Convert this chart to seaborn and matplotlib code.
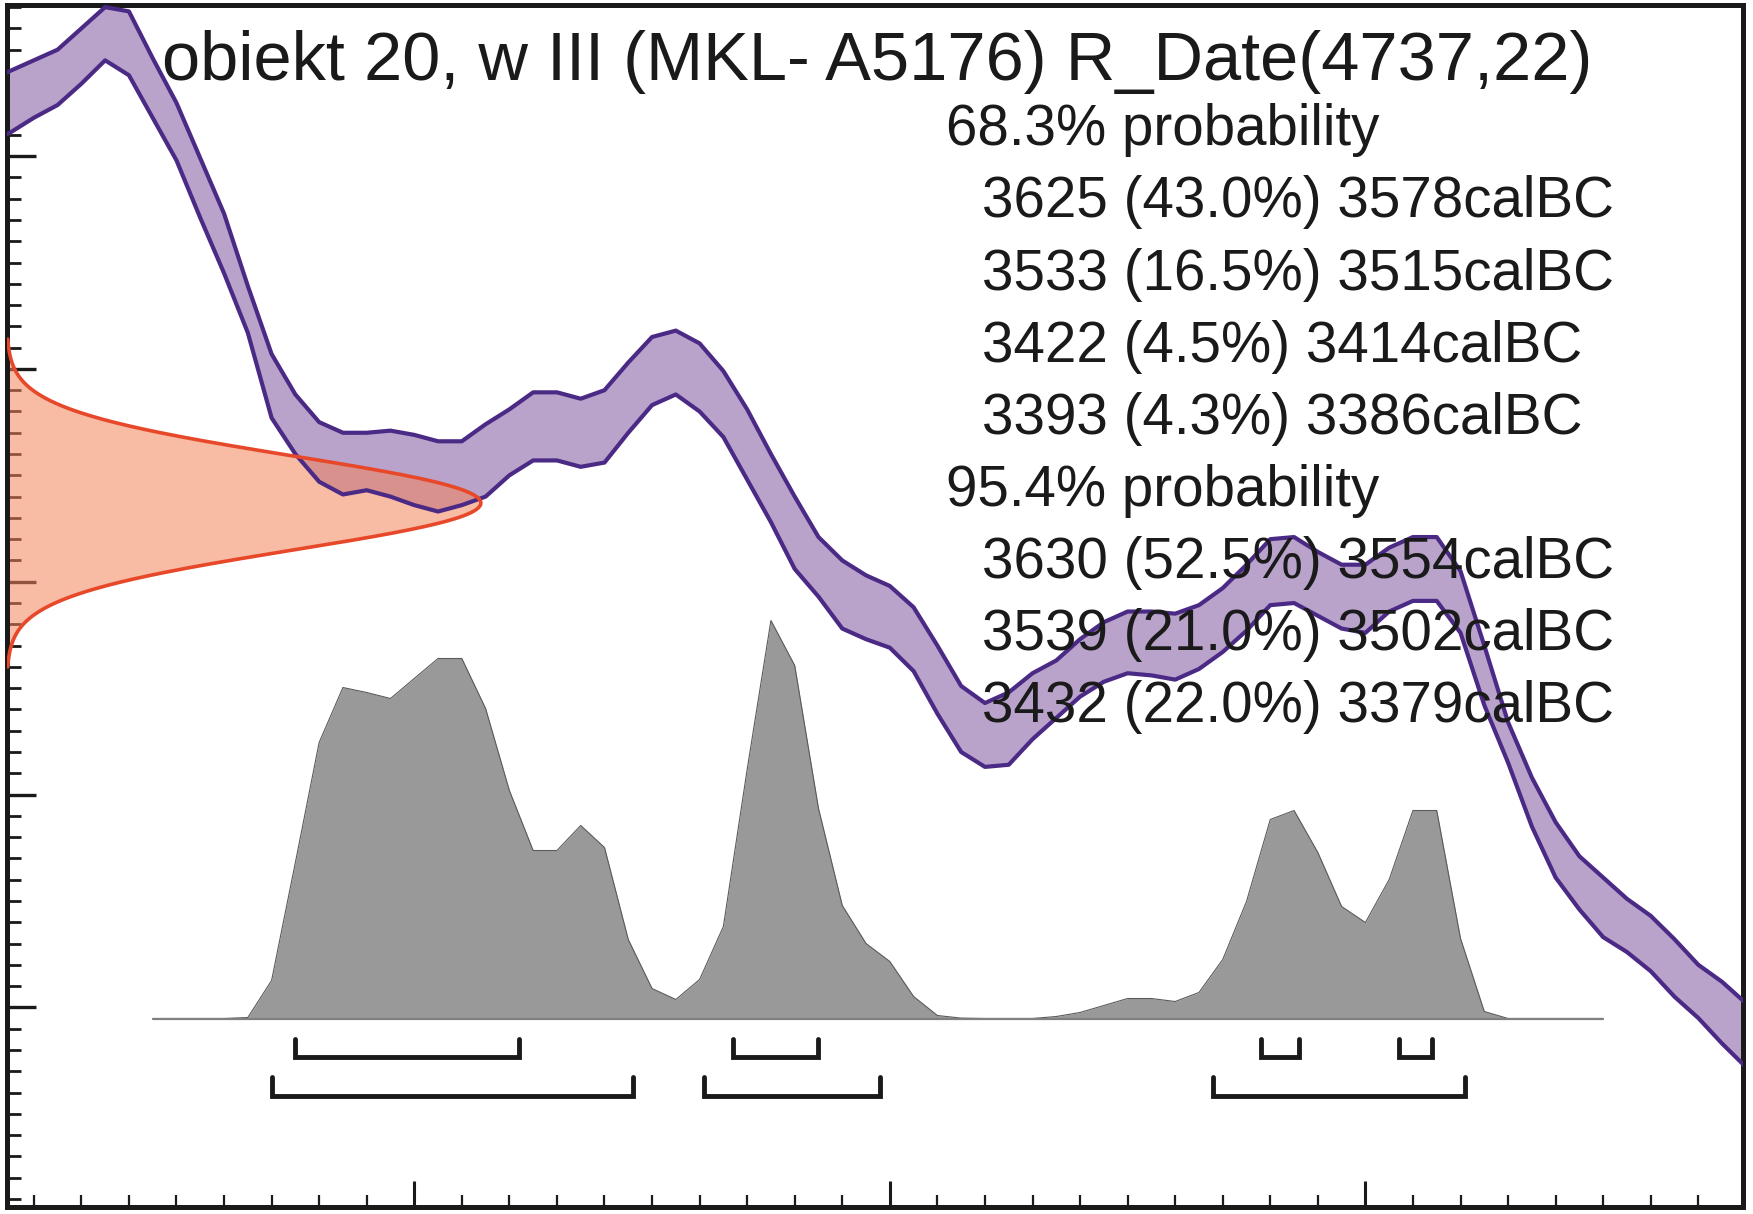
import numpy as np
import matplotlib
matplotlib.use('Agg')
import matplotlib.pyplot as plt
from matplotlib.ticker import MultipleLocator
import seaborn as sns

# radiocarbon measurement
title = 'obiekt 20, w III (MKL- A5176) R_Date(4737,22)'
r_mean = 4737
r_sd = 22

# calibration curve band (BP), 5-year steps, calBC
cal_years = [3690, 3685, 3680, 3675, 3670, 3665, 3660, 3655, 3650, 3645, 3640, 3635, 3630,
             3625, 3620, 3615, 3610, 3605, 3600, 3595, 3590, 3585, 3580, 3575, 3570, 3565,
             3560, 3555, 3550, 3545, 3540, 3535, 3530, 3525, 3520, 3515, 3510, 3505, 3500,
             3495, 3490, 3485, 3480, 3475, 3470, 3465, 3460, 3455, 3450, 3445, 3440, 3435,
             3430, 3425, 3420, 3415, 3410, 3405, 3400, 3395, 3390, 3385, 3380, 3375, 3370,
             3365, 3360, 3355, 3350, 3345, 3340, 3335, 3330, 3325, 3320, 3315]
cal_upper = [4935, 4940, 4945, 4950, 4960, 4970, 4968, 4946, 4925, 4899, 4873, 4839, 4807,
             4788, 4775, 4770, 4770, 4771, 4769, 4766, 4766, 4774, 4781, 4789, 4789, 4786,
             4790, 4803, 4815, 4818, 4812, 4799, 4781, 4760, 4740, 4721, 4710, 4703, 4698,
             4688, 4670, 4651, 4643, 4648, 4657, 4663, 4673, 4681, 4686, 4686, 4685, 4689,
             4697, 4708, 4720, 4721, 4714, 4708, 4708, 4716, 4721, 4721, 4705, 4670, 4634,
             4608, 4587, 4571, 4561, 4551, 4543, 4532, 4520, 4512, 4502, 4492]
cal_lower = [4906, 4911, 4918, 4924, 4934, 4945, 4938, 4918, 4898, 4871, 4845, 4817, 4777,
             4760, 4747, 4741, 4743, 4740, 4736, 4733, 4736, 4740, 4750, 4757, 4757, 4754,
             4756, 4770, 4783, 4788, 4780, 4768, 4748, 4728, 4706, 4693, 4678, 4673, 4669,
             4658, 4638, 4620, 4613, 4614, 4626, 4636, 4646, 4653, 4657, 4656, 4654, 4659,
             4667, 4677, 4689, 4690, 4684, 4678, 4676, 4686, 4691, 4691, 4676, 4642, 4615,
             4585, 4561, 4546, 4533, 4526, 4517, 4505, 4495, 4483, 4472, 4461]

# calibrated probability (relative heights), calBC
post_years = [3655, 3650, 3645, 3640, 3635, 3630, 3625, 3620, 3615, 3610, 3605, 3600, 3595,
              3590, 3585, 3580, 3575, 3570, 3565, 3560, 3555, 3550, 3545, 3540, 3535, 3530,
              3525, 3520, 3515, 3510, 3505, 3500, 3495, 3490, 3485, 3480, 3475, 3470, 3465,
              3460, 3455, 3450, 3445, 3440, 3435, 3430, 3425, 3420, 3415, 3410, 3405, 3400,
              3395, 3390, 3385, 3380, 3375, 3370, 3365, 3360, 3355, 3350]
post_prob = [0, 0, 0, 0, 1, 38, 156, 276, 331, 326, 320, 340, 360,
             360, 310, 228, 168, 168, 193, 171, 79, 30, 19, 39, 92, 249,
             398, 353, 210, 113, 75, 57, 22, 3, 0.4, 0, 0, 0, 2,
             6, 13, 20, 20, 17, 26, 59, 117, 199, 208, 166, 112, 96,
             139, 208, 208, 80, 7, 0, 0, 0, 0, 0]

# probability ranges
range68 = [(3625, 3578), (3533, 3515), (3422, 3414), (3393, 3386)]
pct68 = [43.0, 16.5, 4.5, 4.3]
range95 = [(3630, 3554), (3539, 3502), (3432, 3379)]
pct95 = [52.5, 21.0, 22.0]

W, H = 1753, 1214
sns.set_theme(style='white')
plt.rcParams['font.family'] = ['Liberation Sans', 'DejaVu Sans']

fig = plt.figure(figsize=(W / 100, H / 100), dpi=100)
ax = fig.add_axes([6.7 / W, 7 / H, 1736.3 / W, 1202 / H])
x_left, x_right = 3685.7, 3320.6
y_bot, y_top = 4406.2, 4971.0

band_fill = '#b9a3cb'
band_line = '#4b2a86'
red_fill = '#f4835a'
red_line = '#e8482a'

# calibration band
ax.fill_between(cal_years, cal_lower, cal_upper, color=band_fill, lw=0, zorder=1)

# measurement as normal curve on the y axis
bp = np.linspace(r_mean - 3.5 * r_sd, r_mean + 3.5 * r_sd, 400)
dens = np.exp(-0.5 * ((bp - r_mean) / r_sd) ** 2)
red_x = x_left - 99.7 * dens
ax.fill_betweenx(bp, x_left, red_x, color=red_fill, alpha=0.55, lw=0, zorder=2)

sns.lineplot(x=cal_years, y=cal_upper, ax=ax, color=band_line, lw=3.0, zorder=3)
sns.lineplot(x=cal_years, y=cal_lower, ax=ax, color=band_line, lw=3.0, zorder=3)
ax.plot(red_x, bp, color=red_line, lw=2.6, zorder=4)

ax.set_xlim(x_left, x_right)
ax.set_ylim(y_bot, y_top)
ax.set_xticks([3600, 3500, 3400])
ax.set_yticks([4500, 4600, 4700, 4800, 4900])
ax.xaxis.set_minor_locator(MultipleLocator(10))
ax.yaxis.set_minor_locator(MultipleLocator(10))
ax.tick_params(which='both', direction='in', left=True, bottom=True, top=False, right=False,
               labelleft=False, labelbottom=False, color='#1a1a1a')
ax.tick_params(axis='y', which='major', length=21, width=2.4)
ax.tick_params(axis='y', which='minor', length=10, width=2.0)
ax.tick_params(axis='x', which='major', length=19, width=2.2)
ax.tick_params(axis='x', which='minor', length=8.5, width=1.6)
for s in ax.spines.values():
    s.set_color('#1a1a1a')
    s.set_linewidth(3.6)
ax.set_xlabel('')
ax.set_ylabel('')

# calibrated distribution on its own vertical scale
ax2 = ax.twinx()
ax2.axis('off')
prob = np.array(post_prob) / max(post_prob)
ax2.set_ylim(-0.4736, 2.5465)
ax2.fill_between(post_years, 0, prob, color='#999999', lw=0)
sns.lineplot(x=post_years, y=prob, ax=ax2, color='#5a5a5a', lw=0.8)
ax2.plot([post_years[0], post_years[-1]], [0, 0], color='#808080', lw=1.6)
for a, b in range68:
    ax2.plot([a, a, b, b], [-0.051, -0.097, -0.097, -0.051], color='#1a1a1a', lw=3.5,
             solid_joinstyle='miter')
for a, b in range95:
    ax2.plot([a, a, b, b], [-0.148, -0.195, -0.195, -0.148], color='#1a1a1a', lw=3.5,
             solid_joinstyle='miter')
ax2.set_xlim(x_left, x_right)

# texts
def px(x, y):
    return x / W, 1 - y / H

fig.text(*px(162, 80), title, fontsize=49.4, va='baseline', ha='left', color='#1a1a1a')
lines = [(946, '68.3% probability')]
for (a, b), p in zip(range68, pct68):
    lines.append((982, f'{a} ({p:.1f}%) {b}calBC'))
lines.append((946, '95.4% probability'))
for (a, b), p in zip(range95, pct95):
    lines.append((982, f'{a} ({p:.1f}%) {b}calBC'))
for i, (x, s) in enumerate(lines):
    fig.text(*px(x, 145.3 + 72.1 * i), s, fontsize=40.7, va='baseline', ha='left',
             color='#1a1a1a', zorder=10)

fig.savefig('out.png', dpi=100)
